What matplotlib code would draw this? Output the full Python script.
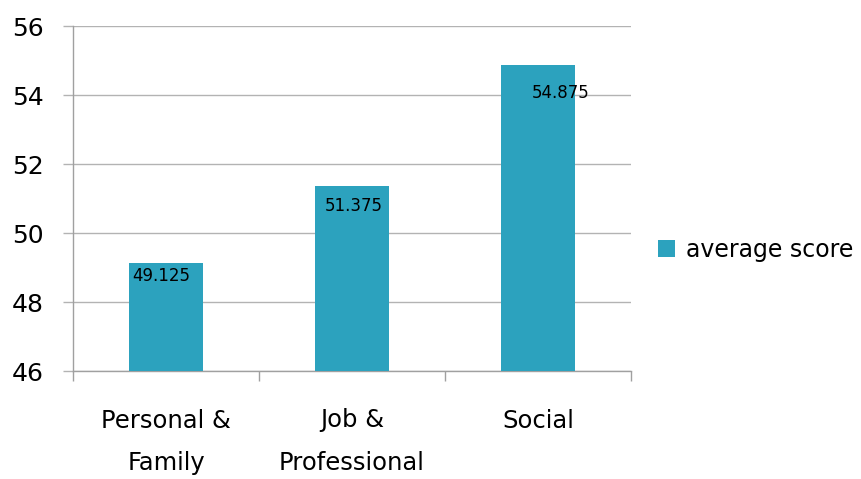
import matplotlib
matplotlib.use("Agg")
import matplotlib.pyplot as plt
from matplotlib.ticker import FixedLocator, NullFormatter

categories = ["Personal &\nFamily", "Job &\nProfessional", "Social"]
scores = [49.125, 51.375, 54.875]
y_ticks = [46, 48, 50, 52, 54, 56]
series_name = "average score"

BAR_COLOR = "#2CA2BE"
GRID_COLOR = "#B3B3B3"
AXIS_COLOR = "#A0A0A0"

# value labels sit at slightly different spots inside each bar (pixels)
label_offsets = [(-5, -13), (1.5, -20), (22.5, -28)]

fig = plt.figure(figsize=(8.61, 4.79), dpi=100)
ax = fig.add_axes([73 / 861, 1 - 371 / 479, (631 - 73) / 861, (371 - 26) / 479])

x = list(range(len(categories)))
bars = ax.bar(x, scores, width=0.4, color=BAR_COLOR, label=series_name, zorder=3)

ax.set_xlim(-0.5, len(categories) - 0.5)
ax.set_ylim(y_ticks[0], y_ticks[-1])
ax.set_yticks(y_ticks)
ax.yaxis.grid(True, color=GRID_COLOR, linewidth=1)
ax.set_axisbelow(True)

for side in ("top", "right"):
    ax.spines[side].set_visible(False)
for side in ("left", "bottom"):
    ax.spines[side].set_color(AXIS_COLOR)
    ax.spines[side].set_linewidth(1)

ax.tick_params(axis="y", length=7.2, width=1, color=GRID_COLOR, pad=14, labelsize=18)

# boundary ticks between categories, labels on the category centres
ax.xaxis.set_major_locator(FixedLocator([i - 0.5 for i in range(len(categories) + 1)]))
ax.xaxis.set_major_formatter(NullFormatter())
ax.xaxis.set_minor_locator(FixedLocator(x))
ax.set_xticklabels(categories, minor=True)
ax.tick_params(axis="x", which="major", length=7.2, width=1, color=AXIS_COLOR)
ax.tick_params(axis="x", which="minor", length=0, pad=27, labelsize=17.5)
for lbl in ax.get_xticklabels(minor=True):
    lbl.set_linespacing(1.95)

for xi, val, (dx, dy) in zip(x, scores, label_offsets):
    ax.annotate(f"{val:g}", xy=(xi, val), xytext=(dx * 0.72, dy * 0.72),
                textcoords="offset points", ha="center", va="center",
                fontsize=12, color="black", zorder=4)

fig.legend(handles=[bars], labels=[series_name], loc="center left",
           bbox_to_anchor=(658 / 861, 1 - 250 / 479), frameon=False,
           fontsize=17, borderpad=0, borderaxespad=0,
           handlelength=0.74, handleheight=0.74, handletextpad=0.45)

fig.savefig("out.png", dpi=100)
